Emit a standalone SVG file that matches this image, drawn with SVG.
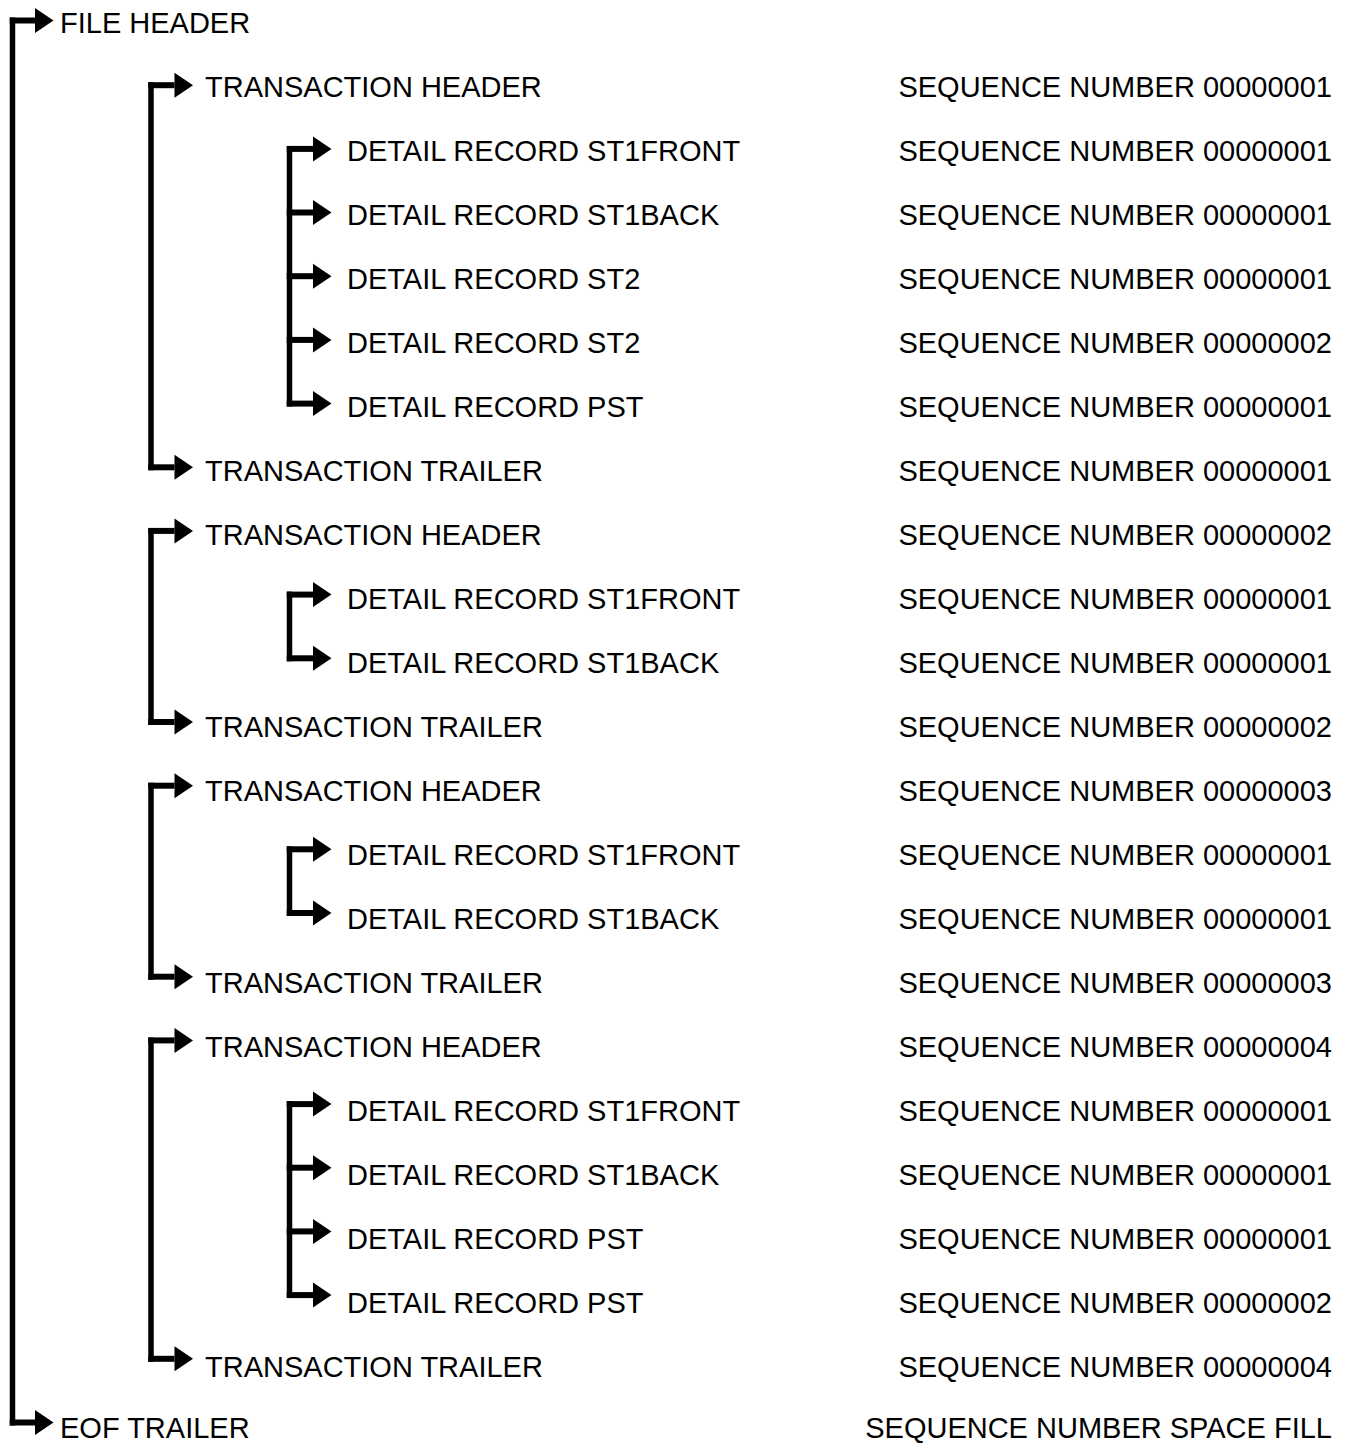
<svg xmlns="http://www.w3.org/2000/svg" width="1347" height="1444" viewBox="0 0 1347 1444">
<defs>
<marker id="ah" markerUnits="userSpaceOnUse" markerWidth="19" markerHeight="26" refX="0" refY="12.5" orient="auto" overflow="visible">
<path d="M0,0 L18.5,12.5 L0,25 Z" fill="#000"/>
</marker>
<style>
.t{font-family:"Liberation Sans",Arial,sans-serif;font-size:29px;fill:#000}
.s{font-family:"Liberation Sans",Arial,sans-serif;font-size:29px;fill:#000;text-anchor:end}
.v{stroke:#000;stroke-width:5.5;fill:none}
.h{stroke:#000;stroke-width:6;fill:none;marker-end:url(#ah)}
</style>
</defs>
<rect width="1347" height="1444" fill="#fff"/>
<g id="connectors">
<path class="v" d="M12.5,17.5V1425.5"/>
<path class="h" d="M9.75,20.5H35"/>
<path class="h" d="M9.75,1422.5H35"/>
<path class="v" d="M151,82.2V470.3"/>
<path class="h" d="M148.25,85.2H174.5"/>
<path class="h" d="M148.25,467.3H174.5"/>
<path class="v" d="M151,527.9V725"/>
<path class="h" d="M148.25,530.9H174.5"/>
<path class="h" d="M148.25,722H174.5"/>
<path class="v" d="M151,782.7V979.7"/>
<path class="h" d="M148.25,785.7H174.5"/>
<path class="h" d="M148.25,976.7H174.5"/>
<path class="v" d="M151,1037.4V1361.8"/>
<path class="h" d="M148.25,1040.4H174.5"/>
<path class="h" d="M148.25,1358.8H174.5"/>
<path class="v" d="M289.5,145.9V406.6"/>
<path class="h" d="M286.75,148.9H313"/>
<path class="h" d="M286.75,212.5H313"/>
<path class="h" d="M286.75,276.2H313"/>
<path class="h" d="M286.75,339.9H313"/>
<path class="h" d="M286.75,403.6H313"/>
<path class="v" d="M289.5,591.6V661.3"/>
<path class="h" d="M286.75,594.6H313"/>
<path class="h" d="M286.75,658.3H313"/>
<path class="v" d="M289.5,846.3V916"/>
<path class="h" d="M286.75,849.3H313"/>
<path class="h" d="M286.75,913H313"/>
<path class="v" d="M289.5,1101.1V1298.1"/>
<path class="h" d="M286.75,1104.1H313"/>
<path class="h" d="M286.75,1167.7H313"/>
<path class="h" d="M286.75,1231.4H313"/>
<path class="h" d="M286.75,1295.1H313"/>
</g>
<g id="n0"><text class="t" x="60" y="33">FILE HEADER</text></g>
<g id="n1"><text class="t" x="205" y="97">TRANSACTION HEADER</text><text class="s" x="1332" y="97">SEQUENCE NUMBER 00000001</text></g>
<g id="n2"><text class="t" x="347" y="161">DETAIL RECORD ST1FRONT</text><text class="s" x="1332" y="161">SEQUENCE NUMBER 00000001</text></g>
<g id="n3"><text class="t" x="347" y="225">DETAIL RECORD ST1BACK</text><text class="s" x="1332" y="225">SEQUENCE NUMBER 00000001</text></g>
<g id="n4"><text class="t" x="347" y="289">DETAIL RECORD ST2</text><text class="s" x="1332" y="289">SEQUENCE NUMBER 00000001</text></g>
<g id="n5"><text class="t" x="347" y="353">DETAIL RECORD ST2</text><text class="s" x="1332" y="353">SEQUENCE NUMBER 00000002</text></g>
<g id="n6"><text class="t" x="347" y="417">DETAIL RECORD PST</text><text class="s" x="1332" y="417">SEQUENCE NUMBER 00000001</text></g>
<g id="n7"><text class="t" x="205" y="481">TRANSACTION TRAILER</text><text class="s" x="1332" y="481">SEQUENCE NUMBER 00000001</text></g>
<g id="n8"><text class="t" x="205" y="545">TRANSACTION HEADER</text><text class="s" x="1332" y="545">SEQUENCE NUMBER 00000002</text></g>
<g id="n9"><text class="t" x="347" y="609">DETAIL RECORD ST1FRONT</text><text class="s" x="1332" y="609">SEQUENCE NUMBER 00000001</text></g>
<g id="n10"><text class="t" x="347" y="673">DETAIL RECORD ST1BACK</text><text class="s" x="1332" y="673">SEQUENCE NUMBER 00000001</text></g>
<g id="n11"><text class="t" x="205" y="737">TRANSACTION TRAILER</text><text class="s" x="1332" y="737">SEQUENCE NUMBER 00000002</text></g>
<g id="n12"><text class="t" x="205" y="801">TRANSACTION HEADER</text><text class="s" x="1332" y="801">SEQUENCE NUMBER 00000003</text></g>
<g id="n13"><text class="t" x="347" y="865">DETAIL RECORD ST1FRONT</text><text class="s" x="1332" y="865">SEQUENCE NUMBER 00000001</text></g>
<g id="n14"><text class="t" x="347" y="929">DETAIL RECORD ST1BACK</text><text class="s" x="1332" y="929">SEQUENCE NUMBER 00000001</text></g>
<g id="n15"><text class="t" x="205" y="993">TRANSACTION TRAILER</text><text class="s" x="1332" y="993">SEQUENCE NUMBER 00000003</text></g>
<g id="n16"><text class="t" x="205" y="1057">TRANSACTION HEADER</text><text class="s" x="1332" y="1057">SEQUENCE NUMBER 00000004</text></g>
<g id="n17"><text class="t" x="347" y="1121">DETAIL RECORD ST1FRONT</text><text class="s" x="1332" y="1121">SEQUENCE NUMBER 00000001</text></g>
<g id="n18"><text class="t" x="347" y="1185">DETAIL RECORD ST1BACK</text><text class="s" x="1332" y="1185">SEQUENCE NUMBER 00000001</text></g>
<g id="n19"><text class="t" x="347" y="1249">DETAIL RECORD PST</text><text class="s" x="1332" y="1249">SEQUENCE NUMBER 00000001</text></g>
<g id="n20"><text class="t" x="347" y="1313">DETAIL RECORD PST</text><text class="s" x="1332" y="1313">SEQUENCE NUMBER 00000002</text></g>
<g id="n21"><text class="t" x="205" y="1377">TRANSACTION TRAILER</text><text class="s" x="1332" y="1377">SEQUENCE NUMBER 00000004</text></g>
<g id="n22"><text class="t" x="60" y="1438">EOF TRAILER</text><text class="s" x="1332" y="1438">SEQUENCE NUMBER SPACE FILL</text></g>
</svg>
